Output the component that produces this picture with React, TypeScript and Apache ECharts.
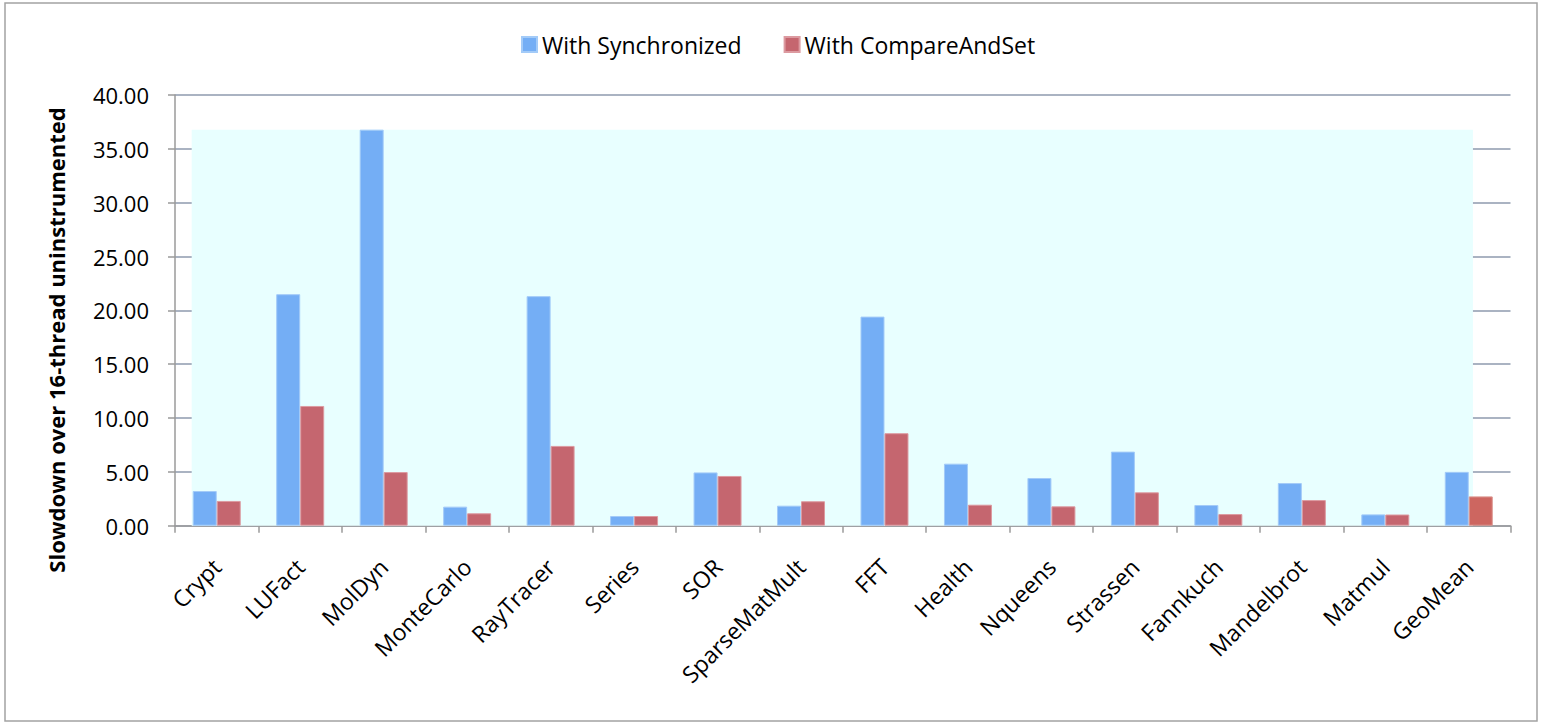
import React, { useEffect, useRef } from "react";
import * as echarts from "echarts";

// Benchmarks on the category axis
const benchmarks = [
  "Crypt", "LUFact", "MolDyn", "MonteCarlo", "RayTracer", "Series", "SOR",
  "SparseMatMult", "FFT", "Health", "Nqueens", "Strassen", "Fannkuch",
  "Mandelbrot", "Matmul", "GeoMean",
];

// Slowdown relative to the uninstrumented 16-thread run
const withSynchronized = [
  3.22, 21.5, 36.78, 1.77, 21.32, 0.9, 4.95, 1.86, 19.42, 5.76, 4.43, 6.88,
  1.92, 3.96, 1.05, 5.0,
];
const withCompareAndSet = [
  2.3, 11.12, 4.98, 1.15, 7.41, 0.9, 4.62, 2.27, 8.59, 1.95, 1.8, 3.1, 1.08,
  2.38, 1.04, 2.72,
];

const yTicks = [0, 5, 10, 15, 20, 25, 30, 35, 40];

const seriesNames = ["With Synchronized", "With CompareAndSet"];

const FONT = "'Open Sans', sans-serif";
const BLUE = "#74aef5";
const RED = "#c5666f";
const RED_OUTSIDE = "#cd6660";
// Shaded panel spans from the first bar to the last blue bar (in category units)
const SHADE_FROM = 0.2;
const SHADE_TO = 15.55;

export default function App() {
  const ref = useRef<HTMLDivElement>(null);

  useEffect(() => {
    if (!ref.current) return;
    const chart = echarts.init(ref.current, undefined, { renderer: "svg" });
    const shadeTop = Math.max(...withSynchronized, ...withCompareAndSet);

    const option = {
      animation: false,
      backgroundColor: "#ffffff",
      textStyle: { fontFamily: FONT },
      graphic: [
        {
          type: "rect",
          shape: { x: 5, y: 3, width: 1532, height: 718 },
          style: { fill: "none", stroke: "#a3a3a3", lineWidth: 1.5 },
          silent: true,
          z: 100,
        },
        {
          type: "text",
          x: 56,
          y: 340,
          rotation: Math.PI / 2,
          style: {
            text: "Slowdown over 16-thread uninstrumented",
            font: `bold 22px ${FONT}`,
            fill: "#000",
            align: "center",
            verticalAlign: "middle",
          },
        },
      ],
      legend: {
        data: seriesNames,
        left: 516,
        top: 28,
        itemWidth: 15,
        itemHeight: 15,
        itemGap: 42,
        icon: "rect",
        textStyle: { fontFamily: FONT, fontSize: 23, color: "#000" },
      },
      grid: { left: 175, right: 30.5, top: 95, bottom: 196.3 },
      xAxis: [
        {
          type: "category",
          data: benchmarks,
          axisLine: { lineStyle: { color: "#9a9a9a", width: 1.5 } },
          axisTick: { show: true, length: 7, lineStyle: { color: "#9a9a9a", width: 1.5 } },
          axisLabel: {
            rotate: 45,
            margin: 37,
            interval: 0,
            fontFamily: FONT,
            fontSize: 23,
            color: "#000",
          },
        },
        {
          type: "value",
          min: 0,
          max: benchmarks.length,
          show: false,
        },
      ],
      yAxis: {
        type: "value",
        min: yTicks[0],
        max: yTicks[yTicks.length - 1],
        interval: 5,
        axisLine: { show: true, lineStyle: { color: "#9a9a9a", width: 1.5 } },
        axisTick: { show: true, length: 7, lineStyle: { color: "#9a9a9a", width: 1.5 } },
        axisLabel: {
          margin: 26,
          fontFamily: FONT,
          fontSize: 22,
          color: "#000",
          formatter: (v: number) => v.toFixed(2),
        },
        splitLine: { lineStyle: { color: "#8e9aae", width: 1.5 } },
      },
      series: [
        {
          name: "shade",
          type: "line",
          xAxisIndex: 1,
          data: [],
          silent: true,
          z: 0,
          markArea: {
            silent: true,
            itemStyle: { color: "#e8ffff" },
            data: [[{ xAxis: SHADE_FROM, yAxis: 0 }, { xAxis: SHADE_TO, yAxis: shadeTop }]],
          },
        },
        {
          name: seriesNames[0],
          type: "bar",
          data: withSynchronized,
          barGap: "0%",
          barCategoryGap: "42.5%",
          z: 3,
          itemStyle: { color: BLUE, borderColor: "#a3cbf8", borderWidth: 1 },
        },
        {
          name: seriesNames[1],
          type: "bar",
          data: withCompareAndSet.map((v, i) =>
            i === withCompareAndSet.length - 1
              ? { value: v, itemStyle: { color: RED_OUTSIDE, borderColor: "#dc9690" } }
              : v
          ),
          z: 3,
          itemStyle: { color: RED, borderColor: "#dc9aa0", borderWidth: 1 },
        },
      ],
    };

    chart.setOption(option);
    return () => chart.dispose();
  }, []);

  return (
    <div
      ref={ref}
      style={{ position: "fixed", left: 0, top: 0, width: 1541, height: 722 }}
    />
  );
}
